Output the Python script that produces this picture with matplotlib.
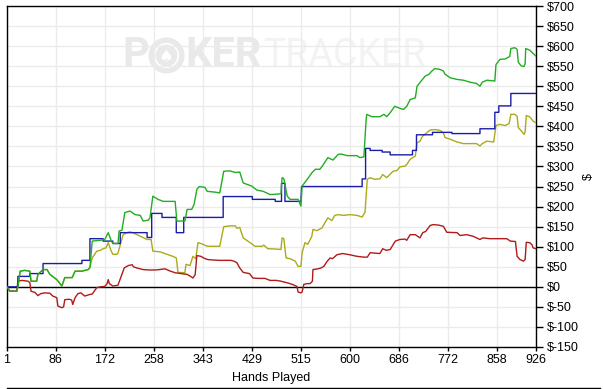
import numpy as np
import matplotlib
matplotlib.use("Agg")
import matplotlib.pyplot as plt
from matplotlib.lines import Line2D

plt.rcParams['font.family'] = ['Liberation Sans', 'DejaVu Sans']

# hands played / dollars
x_ticks = [1, 86, 172, 258, 343, 429, 515, 600, 686, 772, 858, 926]
y_ticks = list(range(-150, 701, 50))

green = [(1, 0), (6, -11), (18, -11), (20, 0), (24, 39), (32, 41), (41, 39), (43, 14), (53, 14),
         (55, 31), (64, 43), (71, 43), (76, 31), (88, 18), (97, 2), (102, 23), (115, 23), (120, 39),
         (132, 39), (143, 43), (146, 48), (150, 114), (164, 116), (172, 118), (178, 135), (183, 116),
         (186, 108), (195, 108), (197, 139), (202, 141), (207, 185), (216, 189), (225, 180), (234, 178),
         (239, 164), (248, 166), (251, 172), (256, 226), (265, 218), (274, 213), (295, 213), (298, 164),
         (312, 164), (316, 193), (324, 193), (328, 205), (333, 243), (337, 250), (347, 248), (351, 238),
         (365, 236), (373, 234), (380, 288), (391, 289), (400, 285), (408, 286), (414, 259), (429, 251),
         (438, 241), (449, 238), (461, 230), (473, 231), (480, 232), (482, 272), (485, 270), (491, 226),
         (496, 218), (510, 218), (515, 201), (517, 251), (526, 268), (534, 284), (540, 293), (548, 293),
         (552, 300), (562, 322), (571, 316), (580, 330), (585, 331), (596, 327), (613, 327), (618, 322),
         (625, 324), (629, 417), (630, 430), (639, 424), (653, 424), (660, 430), (665, 424), (671, 434),
         (679, 450), (686, 446), (694, 442), (700, 450), (706, 467), (715, 471), (718, 500), (723, 509),
         (732, 525), (739, 530), (744, 538), (749, 544), (758, 542), (764, 538), (767, 530), (776, 521),
         (788, 517), (799, 515), (811, 510), (822, 507), (828, 500), (832, 510), (840, 515), (854, 513),
         (856, 554), (863, 567), (872, 568), (880, 574), (882, 594), (889, 596), (893, 592), (895, 560),
         (900, 551), (905, 549), (907, 556), (908, 594), (915, 590), (921, 582), (926, 575)]

blue = [(1, 0), (20, 0), (20, 26), (41, 26), (41, 33), (64, 33), (64, 58), (132, 58), (132, 66),
        (146, 66), (146, 120), (169, 120), (169, 114), (186, 114), (186, 108), (199, 108), (199, 135),
        (246, 135), (246, 123), (254, 123), (254, 183), (272, 183), (272, 173), (297, 173), (297, 135),
        (310, 135), (310, 173), (379, 173), (379, 225), (430, 225), (430, 218), (470, 218), (470, 213),
        (481, 213), (481, 258), (487, 258), (487, 213), (515, 213), (516, 250), (622, 250), (622, 269),
        (628, 269), (628, 345), (636, 345), (636, 340), (657, 340), (657, 336), (671, 336), (671, 329),
        (710, 329), (710, 340), (717, 340), (717, 379), (745, 379), (745, 385), (779, 385), (779, 382),
        (828, 382), (828, 394), (854, 394), (854, 435), (861, 435), (861, 451), (882, 451), (882, 482),
        (926, 482)]

olive = [(1, 0), (6, -11), (18, -11), (20, 0), (24, 39), (32, 41), (41, 39), (43, 14), (53, 14),
         (55, 31), (64, 43), (71, 43), (76, 31), (88, 18), (97, 2), (102, 23), (115, 23), (120, 39),
         (132, 39), (143, 43), (146, 48), (150, 72), (158, 89), (164, 91), (169, 95), (174, 97),
         (178, 110), (183, 90), (186, 81), (193, 81), (195, 84), (204, 130), (211, 135), (216, 137),
         (221, 135), (234, 126), (246, 118), (253, 118), (256, 89), (269, 87), (281, 81), (291, 76),
         (297, 72), (300, 36), (312, 35), (314, 56), (321, 53), (326, 76), (331, 70), (335, 110),
         (340, 108), (347, 104), (352, 101), (373, 101), (380, 150), (391, 152), (400, 152), (403, 146),
         (408, 148), (414, 122), (426, 110), (435, 101), (447, 101), (450, 104), (457, 95), (473, 94),
         (480, 93), (482, 122), (485, 120), (489, 72), (496, 70), (505, 64), (510, 51), (515, 51),
         (517, 85), (522, 110), (527, 106), (534, 126), (536, 143), (543, 140), (552, 147), (557, 160),
         (562, 172), (569, 165), (574, 178), (580, 180), (589, 178), (601, 180), (613, 178), (622, 174),
         (627, 186), (631, 268), (636, 272), (644, 268), (653, 269), (658, 280), (665, 272), (676, 288),
         (683, 290), (688, 299), (697, 301), (700, 305), (706, 318), (715, 326), (718, 359), (723, 363),
         (728, 376), (735, 384), (741, 391), (749, 392), (758, 390), (764, 384), (767, 372), (776, 368),
         (788, 361), (799, 357), (811, 357), (822, 357), (828, 351), (832, 357), (840, 363), (852, 361),
         (856, 402), (863, 405), (872, 402), (879, 407), (882, 430), (889, 430), (893, 425), (895, 397),
         (902, 386), (905, 380), (907, 386), (909, 427), (915, 424), (921, 413), (926, 409)]

red = [(1, 0), (6, -11), (18, -11), (20, 14), (27, 16), (38, 14), (41, 10), (43, -11), (50, -14),
       (55, -22), (60, -17), (67, -15), (76, -16), (81, -23), (88, -27), (90, -48), (97, -52),
       (100, -50), (102, -32), (110, -31), (114, -33), (116, -44), (120, -27), (125, -17), (130, -15),
       (137, -23), (146, -19), (150, -18), (158, -2), (165, 0), (172, 1), (176, 8), (178, 18), (180, 8),
       (186, 2), (195, 4), (206, 47), (213, 53), (220, 55), (222, 50), (228, 47), (239, 43), (250, 42),
       (260, 42), (268, 43), (277, 45), (285, 40), (295, 35), (305, 33), (316, 31), (321, 27), (326, 22),
       (330, 30), (333, 78), (340, 76), (346, 71), (352, 68), (360, 67), (372, 66), (382, 66), (392, 66),
       (398, 64), (403, 60), (408, 47), (414, 36), (425, 33), (431, 22), (440, 21), (452, 21), (461, 16),
       (472, 16), (480, 14), (491, 10), (500, 6), (508, 1), (510, -13), (515, -15), (517, -13), (520, 6),
       (526, 8), (531, 8), (535, 14), (536, 43), (545, 45), (550, 47), (555, 51), (561, 64), (566, 72),
       (570, 70), (578, 80), (588, 83), (600, 80), (613, 76), (625, 74), (631, 74), (636, 85), (645, 84),
       (653, 83), (658, 95), (664, 91), (671, 93), (680, 114), (688, 118), (697, 119), (700, 116),
       (706, 130), (715, 130), (723, 122), (728, 135), (733, 138), (741, 153), (746, 155), (755, 154),
       (764, 151), (770, 136), (788, 135), (793, 128), (805, 130), (816, 126), (828, 118), (833, 122),
       (845, 120), (860, 120), (875, 120), (881, 114), (890, 113), (893, 76), (898, 68), (904, 64),
       (907, 68), (909, 111), (915, 110), (919, 105), (921, 97), (926, 95)]

fig = plt.figure(figsize=(6.03, 3.89), dpi=100)
ax = fig.add_axes([7 / 603, 42 / 389, 529 / 603, 341 / 389])

# watermark
wm_dark = '#e9e9e9'
wm_light = '#f3f3f3'
ax.text(0.219, 0.856, 'P', transform=ax.transAxes, fontsize=30, fontweight='bold',
        family='Roboto', color=wm_dark, va='center', ha='left', zorder=0)
ax.plot([0.301], [0.856], 'o', transform=ax.transAxes, ms=26, color=wm_dark, mec='none', zorder=0)
ax.plot([0.301], [0.856], 'o', transform=ax.transAxes, ms=17, mfc='none', mec='white', mew=1.2, zorder=0)
ax.text(0.301, 0.85, '\u2660', transform=ax.transAxes, fontsize=12, family='DejaVu Sans',
        color='white', va='center', ha='center', zorder=0)
ax.text(0.3365, 0.856, 'KER', transform=ax.transAxes, fontsize=30, fontweight='bold',
        family='Roboto', color=wm_dark, va='center', ha='left', zorder=0)
ax.text(0.4845, 0.856, 'TRACKER', transform=ax.transAxes, fontsize=27,
        family='Roboto', color=wm_light, va='center', ha='left', zorder=0)

for v in y_ticks:
    ax.axhline(v, color='#ebebeb', lw=1, zorder=1)
for h in x_ticks:
    ax.axvline(h, color='#ebebeb', lw=1, zorder=1)
ax.axhline(0, color='black', lw=1, zorder=2)

series = [(olive, '#aaaa1c'), (red, '#b01a1a'), (blue, '#1c1caa'), (green, '#22ad22')]
for data, col in series:
    hx, vy = zip(*data)
    ax.plot(hx, vy, color=col, lw=1.0, zorder=3)

ax.set_xlim(1, 926)
ax.set_ylim(-150, 700)
ax.set_xticks(x_ticks)
ax.set_xticklabels([str(h) for h in x_ticks])
ax.set_yticks(y_ticks)
ax.set_yticklabels(['$' + str(v) for v in y_ticks])
ax.yaxis.tick_right()
ax.yaxis.set_label_position('right')
ax.tick_params(axis='y', length=5, width=1, pad=3, labelsize=9, colors='black')
ax.tick_params(axis='x', length=3, width=1, pad=2, labelsize=9)
ax.set_ylabel('$', fontsize=9, rotation=90, labelpad=3)
ax.set_xlabel('Hands Played', fontsize=9, labelpad=4)
for s in ax.spines.values():
    s.set_color('black')
    s.set_linewidth(1)

fig.add_artist(Line2D([7 / 603, 600 / 603], [1.5 / 389, 1.5 / 389], color='black', lw=1))

fig.savefig('out.png', dpi=100)
